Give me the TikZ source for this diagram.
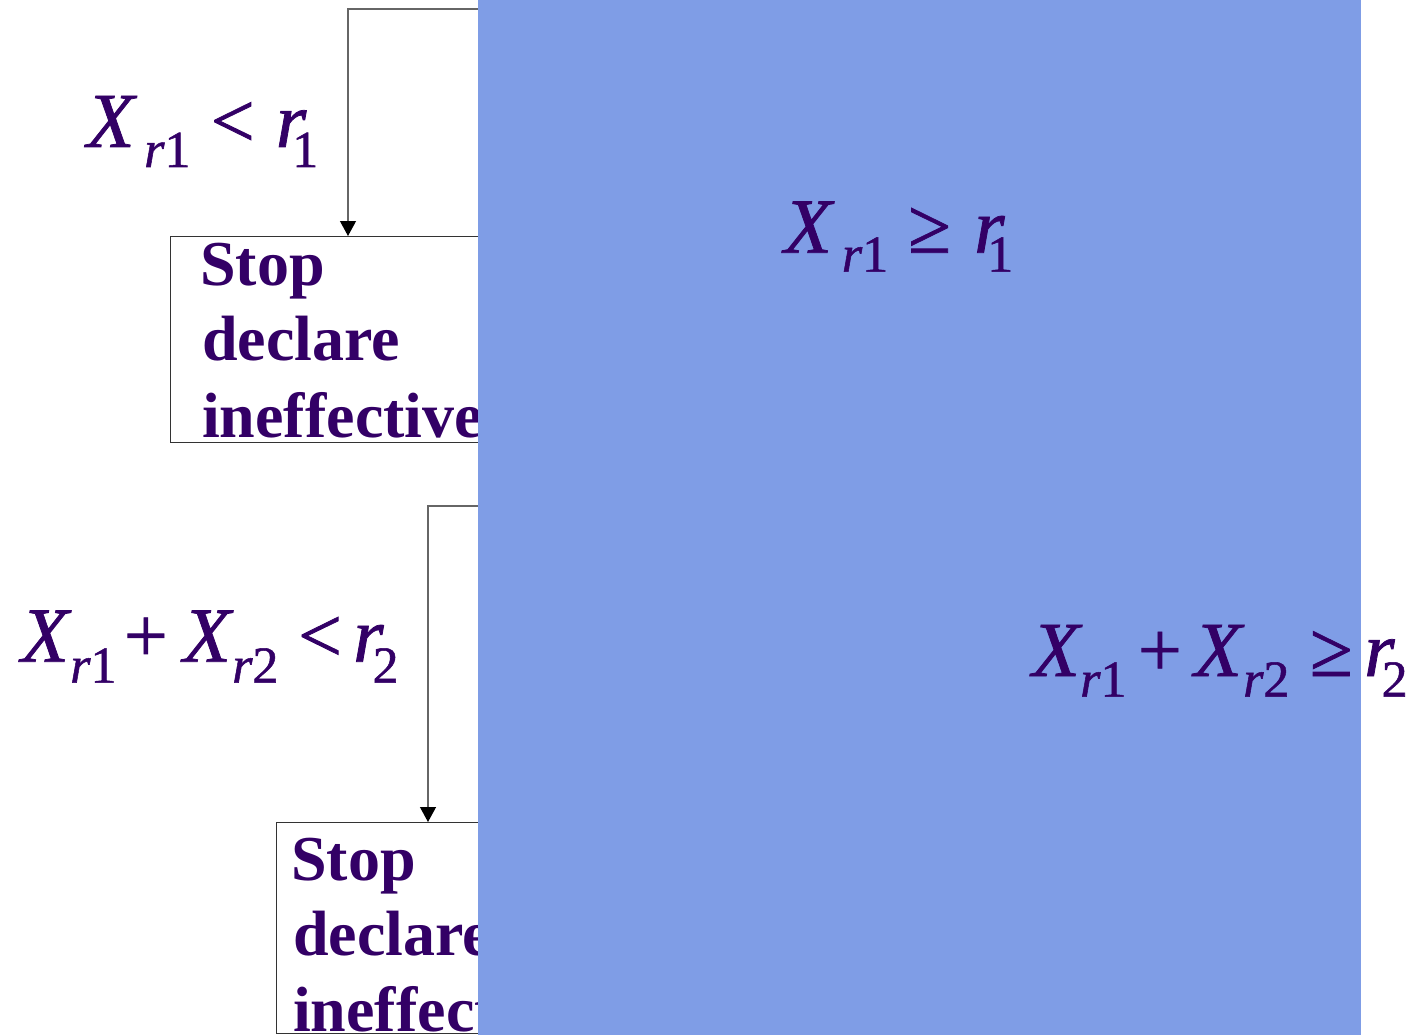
\documentclass[tikz,border=0pt]{standalone}
\usepackage{fontspec}
\setmainfont{Liberation Serif}
\newfontfamily\eqfont[FakeBold=1]{Liberation Serif}
\usetikzlibrary{arrows.meta}
\definecolor{ink}{RGB}{51,0,102}
\definecolor{panel}{RGB}{127,157,230}
\begin{document}
\begin{tikzpicture}[x=1pt,y=-1pt,
  mainf/.style={inner sep=0pt, anchor=base west, text=ink, font=\eqfont\fontsize{78}{78}\selectfont},
  subf/.style={inner sep=0pt, anchor=base west, text=ink, font=\eqfont\fontsize{52}{52}\selectfont},
  stoptxt/.style={inner sep=0pt, anchor=base west, text=ink, font=\fontsize{64}{64}\selectfont\bfseries},
  stopbox/.style={draw=black!80, line width=1pt, anchor=north west, inner sep=0pt},
  conn/.style={draw=black!60, line width=1.2pt, -{Triangle[width=16pt,length=15pt,color=black]}}]
\useasboundingbox (0,0) rectangle (1418,1035);
% boxes
\node[stopbox, minimum width=330pt, minimum height=206pt] (box1) at (170,236) {};
\node[stopbox, minimum width=250pt, minimum height=211pt] (box2) at (276,822) {};
% connectors
\coordinate (s1) at (520,9);
\coordinate (t1) at (348,236);
\coordinate (s2) at (520,506);
\coordinate (t2) at (428,822);
\draw[conn] (s1) -| (t1);
\draw[conn] (s2) -| (t2);
% box texts
\node[stoptxt] (b1a) at (200,285) {Stop};
\node[stoptxt] (b1b) at (202,360) {declare};
\node[stoptxt] (b1c) at (202,437) {ineffective};
\node[stoptxt] (b2a) at (291,880.7) {Stop};
\node[stoptxt] (b2b) at (293,955.7) {declare};
\node[stoptxt] (b2c) at (293,1031) {ineffective};
% label 1
\node[mainf] (l1a) at (86.7,147) {\itshape X};
\node[subf] (l1b) at (144,167) {{\itshape r}1};
\node[mainf] (l1c) at (210.5,147) {<};
\node[mainf] (l1d) at (275.7,147) {\itshape r};
\node[subf] (l1e) at (292,167) {1};
% label 3
\node[mainf] (l3a) at (21,661.7) {\itshape X};
\node[subf] (l3b) at (70,682.7) {{\itshape r}1};
\node[mainf] (l3c) at (123.7,661.7) {+};
\node[mainf] (l3d) at (183,661.7) {\itshape X};
\node[subf] (l3e) at (232,682.7) {{\itshape r}2};
\node[mainf] (l3f) at (297.8,661.7) {<};
\node[mainf] (l3g) at (353,661.7) {\itshape r};
\node[subf] (l3h) at (372.4,682.7) {2};
% panel
\fill[panel] (478,0) rectangle (1361,1035);
% label 2
\node[mainf] (l2a) at (784,252.7) {\itshape X};
\node[subf] (l2b) at (841.7,271.7) {{\itshape r}1};
\node[mainf] (l2c) at (908,252.7) {≥};
\node[mainf] (l2d) at (974,252.7) {\itshape r};
\node[subf] (l2e) at (987,271.7) {1};
% label 4
\node[mainf] (l4a) at (1032,676) {\itshape X};
\node[subf] (l4b) at (1080,696.7) {{\itshape r}1};
\node[mainf] (l4c) at (1137.7,676) {+};
\node[mainf] (l4d) at (1194,676) {\itshape X};
\node[subf] (l4e) at (1243,696.7) {{\itshape r}2};
\node[mainf] (l4f) at (1309.7,676) {≥};
\node[mainf] (l4g) at (1364,676) {\itshape r};
\node[subf] (l4h) at (1381.4,696.7) {2};
\end{tikzpicture}
\end{document}
